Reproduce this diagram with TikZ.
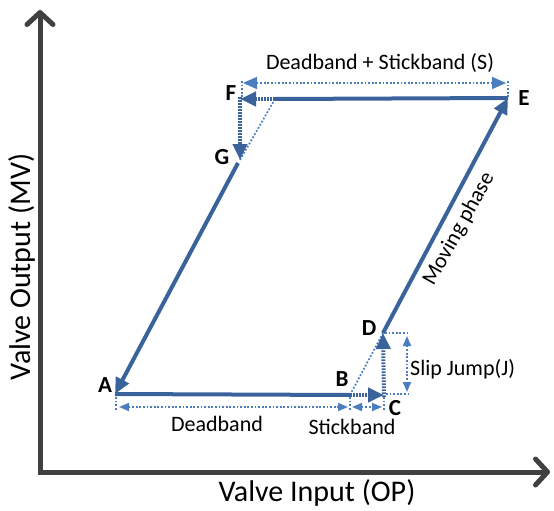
\documentclass[tikz,border=0pt]{standalone}
\usepackage{fontspec}
\setmainfont{Carlito}
\usetikzlibrary{arrows.meta}
\definecolor{pathblue}{HTML}{3A639B}
\definecolor{dimblue}{HTML}{4A7EBF}
\definecolor{axisgray}{HTML}{404040}
\begin{document}
\begin{tikzpicture}[x=1pt,y=-1pt,
  axis/.style={draw=axisgray, line width=5pt, line join=miter,
    {Straight Barb[round,length=12pt,width=26pt]}-{Straight Barb[round,length=12pt,width=26pt]}},
  mainline/.style={draw=pathblue, line width=4pt},
  maintip/.style={-{Triangle[length=16pt,width=14pt]}},
  jumpline/.style={draw=pathblue, line width=4pt, dash pattern=on 1.6pt off 1.4pt},
  guide/.style={draw=dimblue, line width=1.7pt, dash pattern=on 1.8pt off 1.8pt},
  dimbig/.style={guide, {Triangle[length=14pt,width=12pt]}-{Triangle[length=14pt,width=12pt]}},
  dimsmall/.style={guide, {Triangle[length=10pt,width=8pt]}-{Triangle[length=10pt,width=8pt]}},
  pt/.style={font=\fontsize{23}{26}\selectfont\bfseries, inner sep=0pt},
  lbl/.style={font=\fontsize{22}{26}\selectfont, inner sep=0pt},
  axlbl/.style={font=\fontsize{30}{34}\selectfont, inner sep=0pt}]
\useasboundingbox (0,0) rectangle (554,511);

% axes
\coordinate (ytop) at (40,10);
\coordinate (orig) at (40,472);
\coordinate (xend) at (550,472);
\draw[axis] (ytop) |- (xend);
\node[axlbl, rotate=90] (ylab) at (22,267) {Valve Output (MV)};
\node[axlbl] (xlab) at (317,493) {Valve Input (OP)};

% cycle corners
\coordinate (A) at (115,394);
\coordinate (B) at (350,395);
\coordinate (C) at (384,395);
\coordinate (D) at (383,333);
\coordinate (E) at (508,98);
\coordinate (Fs) at (275,99);
\coordinate (F) at (240,99);
\coordinate (G) at (240,160);
\coordinate (Gs) at (238,163);

% thin guides of the stick-slip steps
\draw[guide] (B) -- (D);
\draw[guide] (Fs) -- (G);

% solid moving segments
\draw[mainline] (A) -- (B);
\draw[mainline, maintip] (D) -- (E);
\draw[mainline] (E) -- (Fs);
\draw[mainline, maintip] (Gs) -- (A);

% sticking / jump segments
\draw[jumpline, maintip] (B) -- (C);
\draw[jumpline, maintip] ([yshift=-2pt]C) -- (D);
\draw[jumpline, maintip] (Fs) -- (F);
\draw[jumpline, maintip] ([yshift=2pt]F) -- (G);

% dimension ticks
\draw[guide] (242,81) -- (242,99);
\draw[guide] (508,81) -- (508,97);
\draw[guide] (116,397) -- (116,411);
\draw[guide] (350,397) -- (350,411);
\draw[guide] (384,397) -- (384,411);
\draw[guide] (385,333) -- (410,333);
\draw[guide] (386,394) -- (410,394);

% dimensions
\draw[dimbig] (243,83) -- (506,83);
\draw[dimsmall] (119,407) -- (348,407);
\draw[dimsmall] (352,407) -- (382,407);
\draw[dimsmall] (407,336) -- (407,392);

% labels
\node[lbl] (dsl) at (380,63) {Deadband + Stickband (S)};
\node[lbl] (dbl) at (217,424) {Deadband};
\node[lbl] (sbl) at (352,427) {Stickband};
\node[lbl, anchor=west] (sjl) at (410,369) {Slip Jump(J)};
\node[lbl, rotate=61] (mpl) at (459,229) {Moving phase};

\node[pt] (lA) at (105,385) {A};
\node[pt] (lB) at (342,379) {B};
\node[pt] (lC) at (395,408) {C};
\node[pt] (lD) at (369,328) {D};
\node[pt] (lE) at (524,98) {E};
\node[pt] (lF) at (231,93) {F};
\node[pt] (lG) at (222,157) {G};
\end{tikzpicture}
\end{document}
